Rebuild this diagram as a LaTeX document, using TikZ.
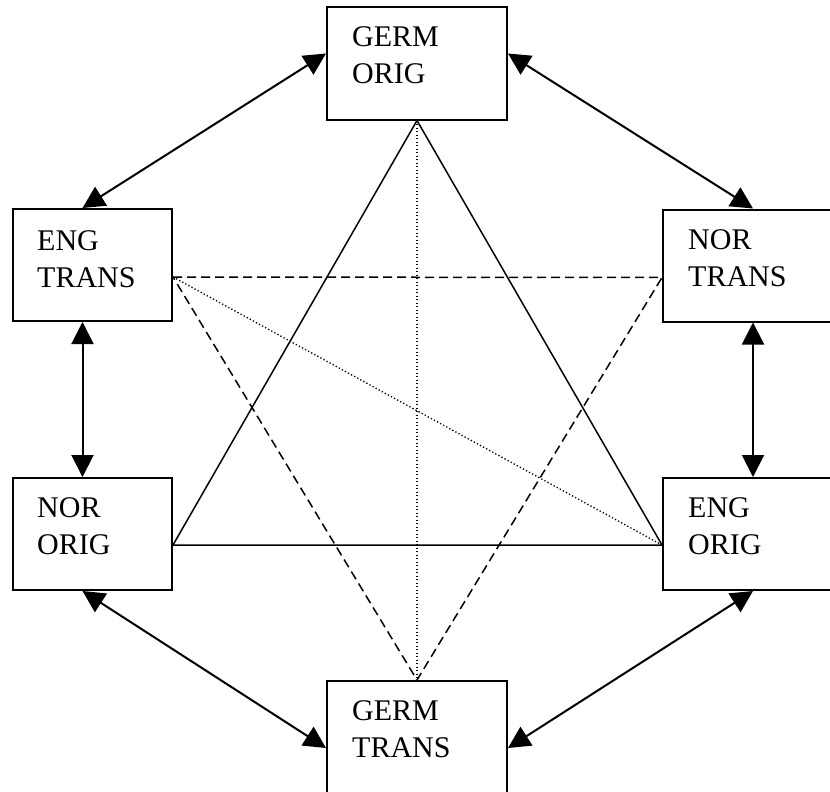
\documentclass[tikz,border=0pt]{standalone}
\usepackage{fontspec}
\setmainfont{Liberation Serif}
\usetikzlibrary{arrows.meta}

\begin{document}
\begin{tikzpicture}[x=1pt,y=-1pt,
		box/.style={draw,line width=2pt,minimum width=#1,minimum height=112pt,inner sep=0pt},
		box/.default=159pt,
		lbl/.style={anchor=north west,inner sep=0pt,align=left,font=\fontsize{30}{37}\selectfont},
		link/.style={line width=2pt,{Triangle[length=22pt,width=22pt]}-{Triangle[length=22pt,width=22pt]}},
		edge/.style={line width=1.5pt},
		dashedge/.style={line width=1.5pt,dash pattern=on 9pt off 5pt},
		dotedge/.style={line width=1.3pt,dash pattern=on 1.3pt off 2.2pt}]
		\useasboundingbox (0,0) rectangle (830,792);
		% boxes
		\node[box=180pt] (germorig) at (417,63.5) {};
		\node[box] (engtrans) at (92.5,265) {};
		\node[box=180pt] (nortrans) at (753,265.5) {};
		\node[box] (nororig) at (92.5,534) {};
		\node[box=180pt] (engorig) at (753,534) {};
		\node[box=180pt] (germtrans) at (417,737) {};
		\node[lbl] (germorigtxt) at ([xshift=26pt,yshift=-20pt]germorig.north west) {GERM\\ORIG};
		\node[lbl] (engtranstxt) at ([xshift=25pt,yshift=-22pt]engtrans.north west) {ENG\\TRANS};
		\node[lbl] (nortranstxt) at ([xshift=26pt,yshift=-21pt]nortrans.north west) {NOR\\TRANS};
		\node[lbl] (nororigtxt) at ([xshift=25pt,yshift=-20pt]nororig.north west) {NOR\\ORIG};
		\node[lbl] (engorigtxt) at ([xshift=26pt,yshift=-20pt]engorig.north west) {ENG\\ORIG};
		\node[lbl] (germtranstxt) at ([xshift=26pt,yshift=-20pt]germtrans.north west) {GERM\\TRANS};
		% outer ring of arrows
		\draw[link] ([yshift=10pt]germorig.west) -- ([xshift=-10pt]engtrans.north);
		\draw[link] ([yshift=10pt]germorig.east) -- (nortrans.north);
		\draw[link] ([xshift=-10pt]engtrans.south) -- ([xshift=-10pt]nororig.north);
		\draw[link] (nortrans.south) -- (engorig.north);
		\draw[link] ([xshift=-10pt]nororig.south) -- ([yshift=-11pt]germtrans.west);
		\draw[link] (engorig.south) -- ([yshift=-11pt]germtrans.east);
		% originals
		\draw[edge] (germorig.south) -- ([yshift=-11pt]nororig.east) -- ([yshift=-11pt]engorig.west) -- cycle;
		% translations
		\draw[dashedge] ([yshift=-12pt]engtrans.east) -- ([yshift=-12pt]nortrans.west) -- (germtrans.north) -- cycle;
		% original to translation
		\draw[dotedge] (germorig.south) -- (germtrans.north);
		\draw[dotedge] ([yshift=-12pt]engtrans.east) -- ([yshift=-11pt]engorig.west);
	\end{tikzpicture}
\end{document}
